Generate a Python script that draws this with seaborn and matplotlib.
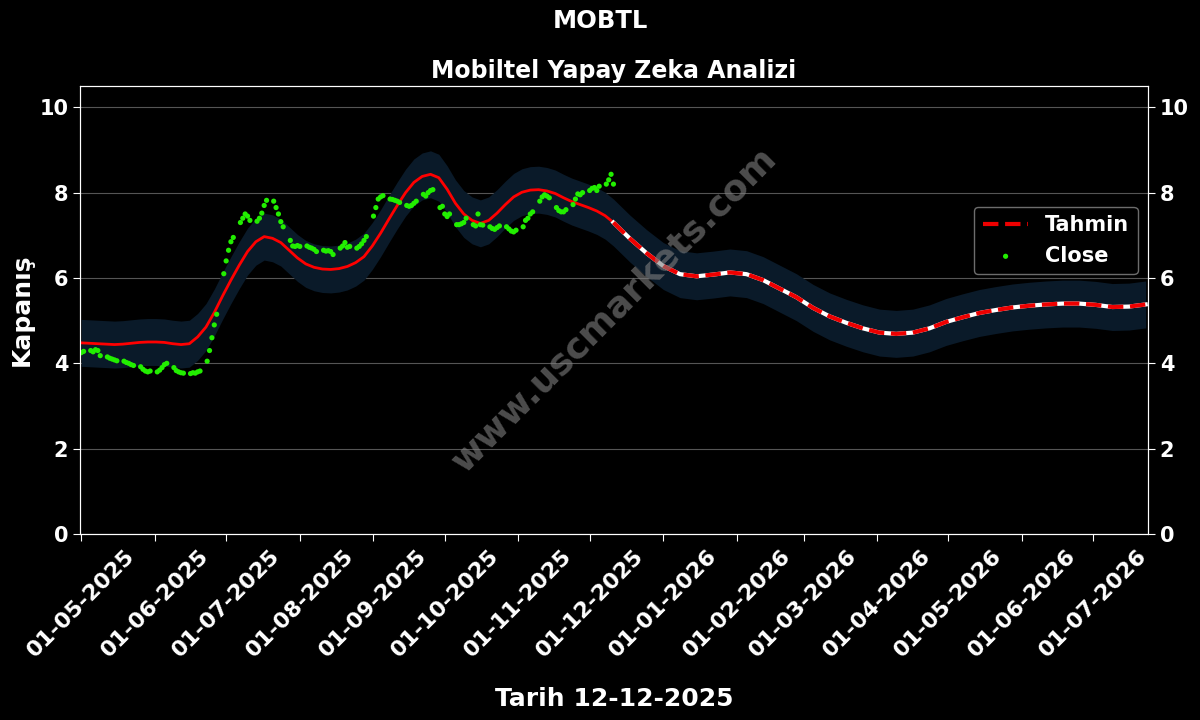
import numpy as np
import pandas as pd
import matplotlib
matplotlib.use("Agg")
import matplotlib.pyplot as plt
import matplotlib.dates as mdates
import seaborn as sns

# ---------------- data ----------------
close_may = [4.25, 4.28, 4.30, 4.27, 4.32, 4.30, 4.18, 4.15, 4.12, 4.10, 4.08,
             4.06, 4.05, 4.02, 4.00, 3.97, 3.95, 3.92, 3.86, 3.82, 3.80, 3.82]
close_jun = [3.80, 3.84, 3.90, 3.97, 4.00, 3.90, 3.83, 3.80, 3.78, 3.77, 3.76,
             3.78, 3.77, 3.80, 3.82, 4.05, 4.30, 4.60, 4.90, 5.15, 6.10]
close_jul = [6.40, 6.65, 6.85, 6.95, 7.30, 7.40, 7.50, 7.45, 7.35, 7.33, 7.40,
             7.52, 7.70, 7.82, 7.80, 7.65, 7.50, 7.32, 7.20, 6.88, 6.75, 6.74, 6.76]
close_aug = [6.74, 6.75, 6.72, 6.70, 6.67, 6.62, 6.65, 6.63, 6.64, 6.62, 6.55,
             6.70, 6.75, 6.83, 6.72, 6.74, 6.70, 6.74, 6.80, 6.88, 6.97]
close_sep = [7.45, 7.65, 7.85, 7.90, 7.93, 7.85, 7.84, 7.82, 7.80, 7.77, 7.70,
             7.68, 7.70, 7.75, 7.80, 7.96, 7.92, 8.00, 8.05, 8.07, 7.65, 7.68]
close_oct = [7.50, 7.44, 7.50, 7.25, 7.25, 7.27, 7.30, 7.40, 7.25, 7.22, 7.50,
             7.25, 7.24, 7.20, 7.16, 7.14, 7.18, 7.22, 7.20, 7.15, 7.10, 7.08, 7.12]
close_nov = [7.20, 7.35, 7.40, 7.50, 7.55, 7.80, 7.90, 7.95, 7.92, 7.88, 7.65,
             7.58, 7.55, 7.55, 7.60, 7.72, 7.85, 7.97, 7.95, 8.00]
close_dec = [8.05, 8.10, 8.12, 8.05, 8.15, 8.20, 8.30, 8.43, 8.20]

close_values = (close_may + close_jun + close_jul + close_aug + close_sep
                + close_oct + close_nov + close_dec)
close_dates = pd.bdate_range("2025-05-01", periods=len(close_values))

# fitted model line, every 3.5 days from 2025-05-01
fit_values = [4.48, 4.47, 4.46, 4.45, 4.44, 4.45, 4.47, 4.49, 4.50, 4.50,
              4.49, 4.46, 4.44, 4.46, 4.62, 4.85, 5.19, 5.58, 5.95, 6.30,
              6.62, 6.85, 6.97, 6.93, 6.83, 6.65, 6.47, 6.33, 6.25, 6.21,
              6.20, 6.22, 6.27, 6.36, 6.50, 6.75, 7.05, 7.38, 7.70, 8.00,
              8.24, 8.38, 8.43, 8.35, 8.08, 7.75, 7.50, 7.35, 7.28, 7.35,
              7.52, 7.72, 7.90, 8.01, 8.06, 8.07, 8.04, 7.98, 7.88, 7.79,
              7.72, 7.65, 7.57, 7.46, 7.30]
fit_dates = pd.date_range("2025-05-01", periods=len(fit_values), freq="84h")

# forecast ("Tahmin"), weekly from 2025-12-11
forecast_values = [7.30, 6.92, 6.58, 6.28, 6.09, 6.04, 6.08, 6.13, 6.09, 5.95,
                   5.75, 5.55, 5.30, 5.10, 4.95, 4.82, 4.72, 4.69, 4.72, 4.82,
                   4.97, 5.08, 5.18, 5.25, 5.31, 5.35, 5.38, 5.40, 5.40, 5.37,
                   5.32, 5.33, 5.38]
forecast_dates = pd.date_range("2025-12-11", periods=len(forecast_values), freq="7D")

band_halfwidth = 0.55

y_ticks = [0, 2, 4, 6, 8, 10]
symbol = "MOBTL"
chart_title = "Mobiltel Yapay Zeka Analizi"
x_label = "Tarih 12-12-2025"
y_label = "Kapanış"
watermark = "www.uscmarkets.com"

# ---------------- frames ----------------
close_df = pd.DataFrame({"date": close_dates, "close": close_values})
fit_df = pd.DataFrame({"date": fit_dates, "value": fit_values})
fc_df = pd.DataFrame({"date": forecast_dates, "value": forecast_values})
band_df = pd.concat([fit_df.iloc[:-1], fc_df], ignore_index=True)

# ---------------- plot ----------------
plt.rcParams["font.family"] = ["DejaVu Sans"]
plt.rcParams["font.weight"] = "bold"

fig = plt.figure(figsize=(12, 7.2), dpi=100, facecolor="black")
ax = fig.add_axes([0.0667, 0.2583, 0.89, 0.6223])
ax.set_facecolor("black")

ax.fill_between(band_df["date"], band_df["value"] - band_halfwidth,
                band_df["value"] + band_halfwidth, color="#0a1a29", lw=0, zorder=1)

sns.lineplot(data=fit_df, x="date", y="value", ax=ax, color="#ff0000", lw=2,
             zorder=3, legend=False)
sns.lineplot(data=fc_df, x="date", y="value", ax=ax, color="white", lw=3,
             zorder=3, legend=False)
sns.lineplot(data=fc_df, x="date", y="value", ax=ax, color="#ee0000", lw=3,
             linestyle="--", zorder=4, label="Tahmin")
sns.scatterplot(data=close_df, x="date", y="close", ax=ax, color="#22ee00",
                s=14, edgecolor="none", zorder=5, label="Close")

ax.set_ylim(0, 10.5)
ax.set_yticks(y_ticks)
ax.set_xlim(pd.Timestamp("2025-04-30 12:00"), pd.Timestamp("2026-07-24"))
ax.xaxis.set_major_locator(mdates.MonthLocator(bymonthday=1))
ax.xaxis.set_major_formatter(mdates.DateFormatter("%d-%m-%Y"))
ax.grid(axis="y", color="#555555", lw=0.8, zorder=0)
ax.grid(axis="x", visible=False)
ax.set_axisbelow(True)

ax.tick_params(axis="x", colors="white", labelsize=16, length=5)
ax.tick_params(axis="y", colors="white", labelsize=15, length=5)
for lab in ax.get_xticklabels():
    lab.set_rotation(45)
    lab.set_ha("center")
for lab in ax.get_xticklabels() + ax.get_yticklabels():
    lab.set_fontweight("bold")
for sp in ax.spines.values():
    sp.set_color("white")

ax.set_xlabel(x_label, color="white", fontsize=18, fontweight="bold", labelpad=19)
ax.set_ylabel(y_label, color="white", fontsize=18, fontweight="bold")
ax.set_title(chart_title, color="white", fontsize=17, fontweight="bold", pad=6)
fig.suptitle(symbol, color="white", fontsize=17.5, fontweight="bold", y=0.988)

ax2 = ax.twinx()
ax2.set_ylim(ax.get_ylim())
ax2.set_yticks(y_ticks)
ax2.tick_params(axis="y", colors="white", labelsize=15, length=5)
for lab in ax2.get_yticklabels():
    lab.set_fontweight("bold")
for sp in ax2.spines.values():
    sp.set_color("white")

ax.text(0.5, 0.5, watermark, transform=ax.transAxes, rotation=45,
        fontsize=26, fontweight="bold", color="gray", alpha=0.6,
        ha="center", va="center", zorder=6)

leg = ax.legend(loc="center right", bbox_to_anchor=(1.0, 0.655), fontsize=15,
                facecolor="black", edgecolor="#888888", labelcolor="white",
                markerscale=1.0, handlelength=2.2)
for t in leg.get_texts():
    t.set_fontweight("bold")
leg.set_zorder(10)

fig.savefig("out.png", dpi=100, facecolor="black")
